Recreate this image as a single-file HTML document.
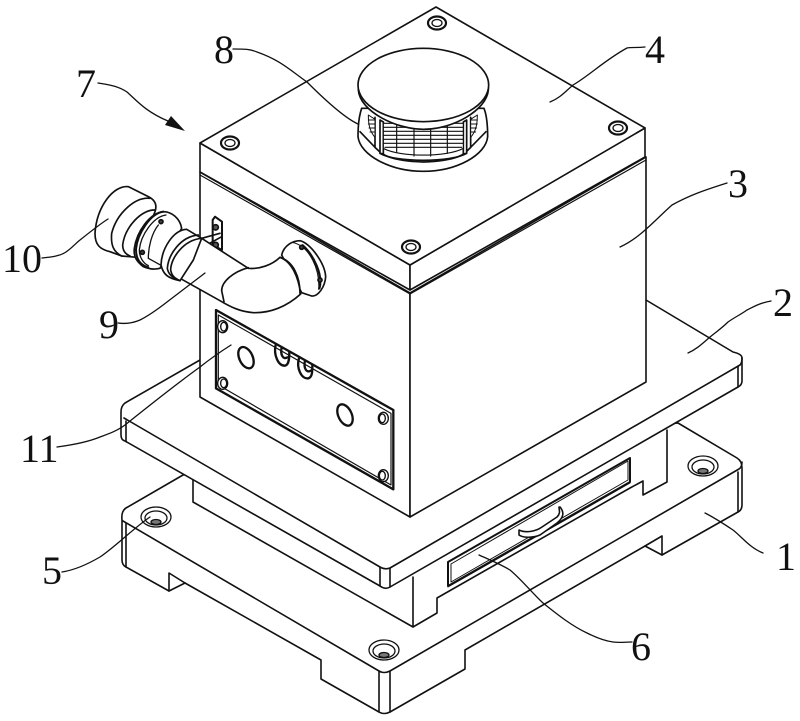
<!DOCTYPE html>
<html><head><meta charset="utf-8"><style>
html,body{margin:0;padding:0;background:#fff}
svg{display:block}
text{font-family:"Liberation Serif",serif;font-size:40px;fill:#111}
</style></head><body>
<svg width="800" height="721" viewBox="0 0 800 721" xmlns="http://www.w3.org/2000/svg">
<g fill="#fff" stroke="#111" stroke-width="1.6" stroke-linejoin="round" stroke-linecap="round">
<!-- base plate -->
<path d="M183,475 L126,508 Q121,511 122,520 L122,560 Q122,565 126,567 L169,591 L169,573 L185,583 L321,660 L321,679 L379,712 Q384,715 390,712 L465,669 L465,650 L645,546 L662,536 L662,555 L738,512 Q742,510 742,505 L742,468 Q742,461 737,458 L678,423 Z"/>
<path d="M123,521 L379,671 Q384,674 390,671 L739,469 Q742,467 742,462" fill="none"/>
<path d="M126,523 V567 M379,671 V712 M390,671 V712 M738,472 V512" fill="none"/>
<path d="M169,591 L185,583 M645,546 L662,555" fill="none"/>
<!-- middle block -->
<path d="M193,470 V502 L413,627 L437,613 V597 L643,482 V495 L667,482 V420 Z" stroke="none"/>
<path d="M193,480 V502 L413,627 V577 M413,627 L437,613 V598 L630,488 L643,481 V495 L667,482 V430" fill="none"/>
<!-- drawer -->
<path d="M448,562 L630,458 V482 L448,586 Z" stroke-width="2"/>
<path d="M451,564 L628,461 V480 L451,582 Z" fill="none" stroke-width="1"/>
<path d="M448,587 L630,483" fill="none" stroke-width="1"/>
<path d="M560,507 C565,513 563,518 557,523 L540,535 C533,538 523,538 519,535 L519,530 C525,533 535,532 542,527 L557,517 C561,513 559,510 559,507" />
<!-- plate 2 -->
<path d="M200,360 L125,403 Q121,406 121,412 V435 Q121,440 125,441 L380,586 Q385,590 390,587 L738,387 Q742,385 742,381 V358 Q742,354 733,352 L646,300 Z"/>
<path d="M124,418 L380,567 Q385,570 390,568 L740,365 Q742,363 742,358" fill="none"/>
<path d="M126,421 V441 M380,567 V586 M390,568 V587 M738,366 V387" fill="none"/>
<!-- box -->
<path d="M200,172 L410,293 V517 L200,397 Z"/>
<path d="M410,293 L646,157 V382 L410,517 Z"/>
<!-- lid -->
<path d="M200,143 L410,265 V290 L200,172 Z"/>
<path d="M410,265 L645,128 V157 L410,290 Z"/>
<path d="M200,143 L436,7 L645,128 L410,265 Z"/>
<path d="M200,175 L410,294 L646,160" fill="none" stroke-width="1.2"/>
<!-- bolts -->
<g stroke-width="2.2">
<ellipse cx="437" cy="23" rx="9" ry="6.5"/><ellipse cx="437" cy="23" rx="5" ry="3.5" stroke-width="1.3"/>
<ellipse cx="230" cy="143" rx="9" ry="6.5"/><ellipse cx="230" cy="143" rx="5" ry="3.5" stroke-width="1.3"/>
<ellipse cx="618" cy="128" rx="9" ry="6.5"/><ellipse cx="618" cy="128" rx="5" ry="3.5" stroke-width="1.3"/>
<ellipse cx="411" cy="247" rx="9" ry="6.5"/><ellipse cx="411" cy="247" rx="5" ry="3.5" stroke-width="1.3"/>
</g>
<!-- base holes -->
<g stroke-width="1.3">
<ellipse cx="156" cy="517" rx="15" ry="10"/><ellipse cx="156" cy="518" rx="11" ry="7"/><ellipse cx="156" cy="522" rx="5" ry="2.5" fill="#777"/>
<ellipse cx="703" cy="466" rx="15" ry="10"/><ellipse cx="703" cy="467" rx="11" ry="7"/><ellipse cx="703" cy="471" rx="5" ry="2.5" fill="#777"/>
<ellipse cx="384" cy="650" rx="15" ry="10"/><ellipse cx="384" cy="651" rx="11" ry="7"/><ellipse cx="384" cy="655" rx="5" ry="2.5" fill="#777"/>
</g>
<!-- vent cap (zoom coords) -->
<g transform="translate(340,40) scale(.33333)" stroke-width="5">
<path d="M65,205 C58,225 54,250 54,290 C60,345 150,394 250,394 C350,394 438,345 443,290 C443,250 440,225 432,205 Z"/>
<path d="M60,275 L105,322 V232 M438,275 L392,322 V232" fill="none"/>
<path d="M85,225 C85,255 90,275 105,292 V238 Z M412,225 C412,255 407,275 392,292 V238 Z" fill="#fff" stroke-width="3"/>
<path d="M85,240 H105 M85,252 H105 M87,264 H105 M90,276 H105 M392,240 H412 M392,252 H412 M392,264 H410 M392,276 H407" fill="none" stroke-width="3"/>
<path d="M105,322 C120,335 130,362 250,366 C370,362 378,335 392,322" fill="none"/>
<path d="M120,240 V340 L130,342 V246 Z M380,240 V340 L370,342 V246 Z" fill="#fff"/>
<path d="M130,325 C180,352 320,352 370,325 V250 H130 Z" fill="#fff" stroke-width="3.5"/>
<path d="M130,262 H370 M130,274 H370 M130,286 H370 M130,298 H370 M130,310 H370 M135,322 H365 M170,255 V338 M222,262 V348 M272,262 V348 M322,258 V340" fill="none" stroke-width="3.5"/>
<path d="M120,340 C165,368 335,368 380,340" fill="none"/>
<path d="M55,150 C60,215 170,268 250,268 C340,268 440,210 445,150 L445,130 L55,130 Z"/>
<ellipse cx="250" cy="135" rx="196" ry="110"/>
</g>
<!-- panel (zoom coords) -->
<g transform="translate(190,300) scale(.33333)" stroke-width="5">
<path d="M78,30 L610,330 V568 L78,265 Z" fill="#fff" stroke-width="7"/>
<path d="M85,45 L603,340 V555 L85,255 Z" fill="none" stroke-width="3.5"/>
<ellipse cx="168" cy="173" rx="20" ry="34" transform="rotate(-25 168 173)" stroke-width="7"/>
<ellipse cx="465" cy="345" rx="20" ry="34" transform="rotate(-25 465 345)" stroke-width="7"/>
<path d="M257,135 C250,165 265,198 285,197 C298,195 298,170 298,155 M275,142 C270,165 280,180 292,172" fill="none" stroke-width="7"/>
<path d="M327,175 C318,205 335,238 355,235 C368,232 367,210 367,195 M345,182 C340,205 350,220 362,212" fill="none" stroke-width="7"/>
<g stroke-width="4">
<ellipse cx="98" cy="80" rx="15" ry="18"/><ellipse cx="101" cy="80" rx="9" ry="13"/>
<ellipse cx="98" cy="250" rx="15" ry="18"/><ellipse cx="101" cy="250" rx="9" ry="13"/>
<ellipse cx="580" cy="355" rx="15" ry="18"/><ellipse cx="577" cy="355" rx="9" ry="13"/>
<ellipse cx="580" cy="527" rx="15" ry="18"/><ellipse cx="577" cy="527" rx="9" ry="13"/>
</g>
</g>
<!-- pipe (zoom coords) -->
<g transform="translate(80,170) scale(.33333)" stroke-width="5">
<!-- bracket -->
<path d="M398,150 L405,140 L426,155 V240 L398,225 Z" stroke-width="6"/>
<circle cx="407" cy="172" r="8" fill="#555"/><circle cx="407" cy="225" r="8" fill="#555"/>
<path d="M365,205 L420,190 M380,225 L425,200" fill="none"/>
<!-- right flange -->
<path d="M605,255 C612,225 640,212 660,212 C690,218 735,280 737,320 C735,350 715,380 695,378 L665,368 Z"/>
<path d="M668,226 C700,255 730,315 718,355" fill="none" stroke-width="7"/>
<path d="M640,218 C690,230 720,300 716,358" fill="none" stroke-width="3"/>
<circle cx="665" cy="232" r="6" fill="#444"/><circle cx="720" cy="330" r="6" fill="#444"/>
<!-- cap -->
<path d="M145,50 C100,45 50,110 45,190 C45,225 60,238 90,245 L125,258 L170,262 L225,125 C232,105 225,90 205,80 Z"/>
<path d="M210,85 C165,80 110,130 95,190 C92,225 100,245 125,258" fill="none"/>
<path d="M225,120 C185,118 135,170 128,225 C128,240 135,252 150,258" fill="none"/>
<!-- left flange -->
<path d="M250,125 C275,125 300,145 305,175 L240,295 C220,300 200,295 190,290 C170,275 160,260 163,235 C170,185 210,128 250,125 Z"/>
<path d="M250,125 C212,130 172,190 168,238 C168,265 180,285 205,292" fill="none" stroke-width="6"/>
<path d="M258,135 C220,140 182,195 178,240 C178,262 190,280 205,287" fill="none" stroke-width="4"/>
<circle cx="243" cy="155" r="6" fill="#444"/><circle cx="187" cy="247" r="6" fill="#444"/>
<path d="M205,265 L245,287 M235,165 C215,190 205,230 205,265" fill="none" stroke-width="4"/>
<!-- pipe -->
<path d="M365,205 L505,295 C540,298 575,285 600,262 C635,275 655,320 662,372 C620,410 570,430 520,428 C480,425 450,410 420,392 L300,325 Z"/>
<path d="M505,293 C460,305 425,335 425,362 L432,395" fill="none"/>
<path d="M600,262 C640,275 660,320 660,370" fill="none"/>
<!-- collar -->
<path d="M320,178 C280,180 245,235 243,285 C250,315 265,325 300,332 L340,270 L365,205 Z"/>
<path d="M355,195 C300,200 265,255 262,295 C265,315 280,325 300,332" fill="none"/>
<path d="M365,205 C310,210 272,265 272,300 C275,318 285,325 300,332" fill="none"/>
</g>
</g>
<!-- leaders -->
<g fill="none" stroke="#111" stroke-width="1.3" stroke-linecap="round">
<path d="M233,49 C245,49 250,49 257,52 C280,60 290,70 307,82 C325,100 345,118 358,124"/>
<path d="M645,47 C635,48 632,47 627,48 C605,60 590,75 573,85 C565,92 560,98 550,102"/>
<path d="M727,183 C705,190 690,195 672,205 C655,220 640,238 620,247"/>
<path d="M771,301 C760,303 755,306 747,310 C740,315 735,317 728,322 C722,328 716,332 710,337 C703,343 697,349 688,353"/>
<path d="M705,513 C715,518 724,524 733,530 C742,537 750,548 763,553"/>
<path d="M479,555 C490,560 500,564 510,570 C522,580 533,594 543,603 C558,615 572,626 587,633 C597,638 605,641 613,642 C620,643 625,642 632,642"/>
<path d="M150,517 C135,527 115,547 100,557 C88,564 75,570 62,572"/>
<path d="M57,447 C72,445 88,442 100,437 C108,434 117,431 125,425 C150,405 175,385 200,367 C210,359 220,352 231,345"/>
<path d="M42,258 C52,257 60,256 66,252 C72,248 76,243 80,240 C90,232 100,224 108,219"/>
<path d="M118,323 C125,324 133,323 140,320 C150,315 158,309 167,302 C180,292 192,283 205,273"/>
<path d="M98,83 C110,85 118,86 127,92 C136,100 146,112 168,121"/>
</g>
<path d="M185,131 L165,125 L171,116 Z" fill="#111"/>
<text x="214" y="63">8</text>
<text x="76" y="97">7</text>
<text x="645" y="63">4</text>
<text x="728" y="197">3</text>
<text x="773" y="316">2</text>
<text x="776" y="570">1</text>
<text x="631" y="660">6</text>
<text x="42" y="584">5</text>
<text x="20" y="462">11</text>
<text x="2" y="272">10</text>
<text x="99" y="338">9</text>
</svg>
</body></html>
